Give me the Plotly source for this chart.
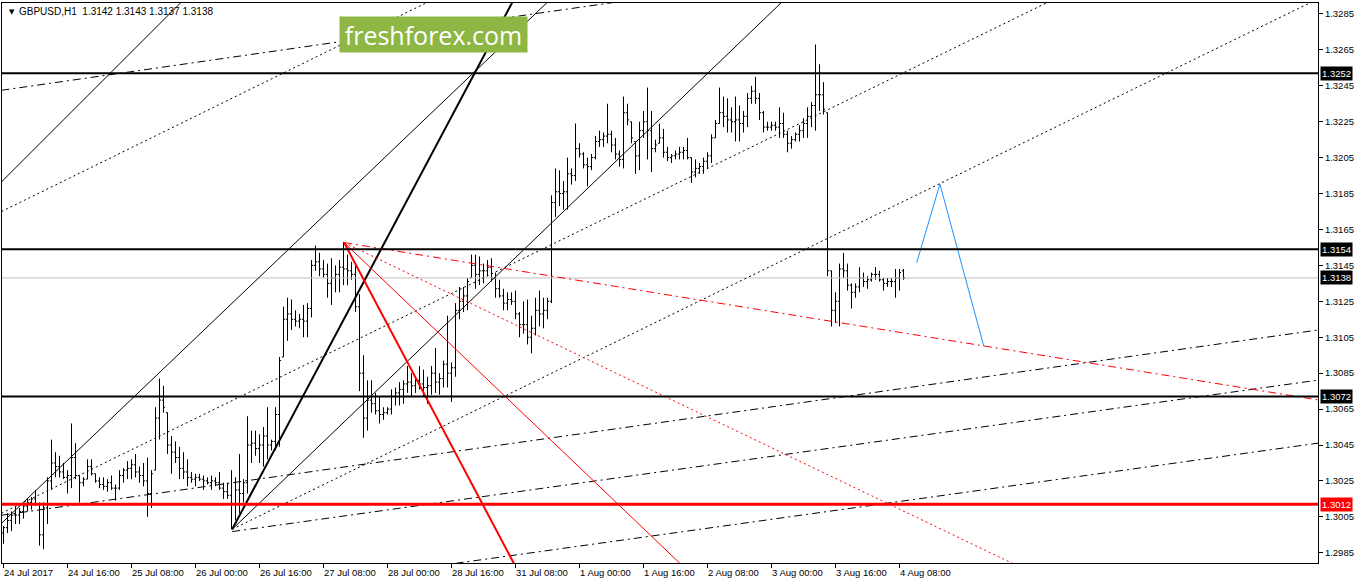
import plotly.graph_objects as go

# ---------------- data: GBPUSD H1, bars indexed from 24 Jul 2017 00:00 (weekend skipped) ----------------
bar_index = list(range(226))

high = [
    1.3000,1.3007,1.3008,1.3011,1.3010,1.3012,1.3015,1.3016,1.3020,1.3013,1.3013,1.3027,1.3048,1.3041,1.3039,1.3035,1.3031,1.3057,1.3046,1.3028,1.3027,1.3037,1.3037,1.3029,
    1.3027,1.3027,1.3026,1.3028,1.3023,1.3031,1.3032,1.3036,1.3037,1.3040,1.3033,1.3035,1.3038,1.3031,1.3066,1.3082,1.3078,1.3063,1.3050,1.3047,1.3044,1.3041,1.3037,1.3030,
    1.3029,1.3029,1.3028,1.3027,1.3028,1.3027,1.3030,1.3024,1.3024,1.3031,1.3027,1.3040,1.3026,1.3061,1.3053,1.3053,1.3051,1.3055,1.3066,1.3048,1.3066,1.3094,1.3122,1.3127,
    1.3126,1.3120,1.3118,1.3123,1.3124,1.3148,1.3156,1.3152,1.3148,1.3146,1.3149,1.3145,1.3148,1.3158,1.3151,1.3147,1.3145,1.3129,1.3095,1.3081,1.3081,1.3074,1.3072,1.3066,
    1.3066,1.3076,1.3077,1.3080,1.3081,1.3089,1.3085,1.3083,1.3089,1.3087,1.3083,1.3089,1.3099,1.3085,1.3092,1.3117,1.3091,1.3124,1.3133,1.3133,1.3138,1.3151,1.3151,1.3150,
    1.3146,1.3148,1.3149,1.3141,1.3137,1.3132,1.3130,1.3130,1.3131,1.3119,1.3125,1.3126,1.3117,1.3127,1.3131,1.3127,1.3127,1.3184,1.3199,1.3198,1.3192,1.3205,1.3199,1.3224,
    1.3213,1.3208,1.3205,1.3207,1.3217,1.3220,1.3219,1.3235,1.3220,1.3216,1.3209,1.3239,1.3235,1.3225,1.3214,1.3225,1.3231,1.3244,1.3231,1.3215,1.3224,1.3221,1.3211,1.3207,
    1.3209,1.3211,1.3211,1.3216,1.3205,1.3204,1.3202,1.3205,1.3208,1.3218,1.3226,1.3244,1.3239,1.3238,1.3233,1.3239,1.3234,1.3231,1.3241,1.3245,1.3250,1.3241,1.3231,1.3225,
    1.3225,1.3225,1.3233,1.3230,1.3220,1.3217,1.3219,1.3223,1.3227,1.3233,1.3236,1.3268,1.3257,1.3247,1.3230,1.3142,1.3130,1.3146,1.3152,1.3146,1.3135,1.3135,1.3144,1.3141,
    1.3139,1.3141,1.3144,1.3142,1.3138,1.3138,1.3138,1.3143,1.3143,1.3143,
]
low = [
    1.2990,1.2996,1.2997,1.3001,1.3001,1.3004,1.3008,1.3009,1.3011,1.2989,1.2987,1.3001,1.3020,1.3027,1.3027,1.3026,1.3018,1.3021,1.3026,1.3013,1.3022,1.3026,1.3028,1.3024,
    1.3021,1.3020,1.3019,1.3020,1.3014,1.3020,1.3024,1.3026,1.3026,1.3027,1.3024,1.3022,1.3005,1.3010,1.3031,1.3048,1.3063,1.3040,1.3029,1.3035,1.3026,1.3026,1.3022,1.3024,
    1.3022,1.3025,1.3020,1.3023,1.3020,1.3022,1.3020,1.3015,1.3015,1.2998,1.3003,1.3007,1.3013,1.3018,1.3035,1.3039,1.3035,1.3033,1.3037,1.3042,1.3042,1.3044,1.3094,1.3103,
    1.3109,1.3111,1.3110,1.3105,1.3105,1.3116,1.3142,1.3139,1.3138,1.3127,1.3123,1.3130,1.3130,1.3134,1.3134,1.3137,1.3119,1.3075,1.3049,1.3053,1.3063,1.3062,1.3057,1.3059,
    1.3062,1.3062,1.3067,1.3067,1.3068,1.3074,1.3072,1.3074,1.3076,1.3072,1.3068,1.3073,1.3074,1.3073,1.3077,1.3077,1.3069,1.3083,1.3115,1.3119,1.3120,1.3138,1.3132,1.3134,
    1.3135,1.3139,1.3136,1.3127,1.3127,1.3120,1.3120,1.3123,1.3115,1.3105,1.3107,1.3101,1.3096,1.3106,1.3111,1.3110,1.3115,1.3124,1.3172,1.3178,1.3176,1.3176,1.3190,1.3192,
    1.3205,1.3199,1.3189,1.3198,1.3204,1.3211,1.3211,1.3213,1.3208,1.3204,1.3200,1.3199,1.3223,1.3213,1.3196,1.3198,1.3216,1.3204,1.3197,1.3208,1.3213,1.3205,1.3203,1.3202,
    1.3204,1.3204,1.3204,1.3204,1.3191,1.3194,1.3196,1.3196,1.3199,1.3202,1.3216,1.3224,1.3222,1.3219,1.3219,1.3214,1.3214,1.3219,1.3222,1.3235,1.3235,1.3226,1.3219,1.3220,
    1.3220,1.3220,1.3216,1.3216,1.3208,1.3210,1.3214,1.3214,1.3216,1.3216,1.3222,1.3220,1.3231,1.3229,1.3139,1.3111,1.3113,1.3111,1.3138,1.3131,1.3121,1.3127,1.3130,1.3133,
    1.3132,1.3136,1.3137,1.3136,1.3131,1.3133,1.3133,1.3127,1.3131,1.3137,
]
open_ = [
    1.2996,1.2999,1.3003,1.3006,1.3006,1.3008,1.3011,1.3013,1.3015,1.3012,1.2995,1.3010,1.3025,1.3035,1.3033,1.3030,1.3027,1.3028,1.3038,1.3028,1.3024,1.3026,1.3033,1.3029,
    1.3025,1.3023,1.3022,1.3024,1.3021,1.3021,1.3028,1.3031,1.3032,1.3034,1.3030,1.3028,1.3025,1.3018,1.3031,1.3060,1.3070,1.3063,1.3045,1.3041,1.3038,1.3032,1.3030,1.3027,
    1.3026,1.3027,1.3026,1.3025,1.3024,1.3025,1.3024,1.3021,1.3019,1.3017,1.3012,1.3020,1.3018,1.3024,1.3045,1.3046,1.3043,1.3045,1.3050,1.3045,1.3047,1.3062,1.3094,1.3115,
    1.3118,1.3115,1.3114,1.3115,1.3114,1.3121,1.3145,1.3147,1.3143,1.3140,1.3135,1.3138,1.3140,1.3144,1.3143,1.3142,1.3140,1.3122,1.3085,1.3060,1.3070,1.3068,1.3064,1.3062,
    1.3063,1.3065,1.3072,1.3074,1.3076,1.3079,1.3080,1.3078,1.3081,1.3079,1.3077,1.3078,1.3085,1.3080,1.3082,1.3090,1.3085,1.3088,1.3120,1.3125,1.3128,1.3138,1.3145,1.3140,
    1.3142,1.3142,1.3144,1.3138,1.3132,1.3128,1.3124,1.3126,1.3125,1.3118,1.3112,1.3112,1.3105,1.3110,1.3120,1.3118,1.3120,1.3125,1.3180,1.3186,1.3185,1.3186,1.3196,1.3195,
    1.3210,1.3207,1.3201,1.3200,1.3205,1.3214,1.3215,1.3217,1.3218,1.3212,1.3207,1.3204,1.3230,1.3225,1.3214,1.3206,1.3220,1.3225,1.3220,1.3210,1.3213,1.3216,1.3208,1.3205,
    1.3206,1.3207,1.3208,1.3209,1.3205,1.3197,1.3199,1.3200,1.3203,1.3206,1.3216,1.3224,1.3230,1.3228,1.3226,1.3225,1.3226,1.3224,1.3228,1.3238,1.3242,1.3238,1.3230,1.3222,
    1.3222,1.3223,1.3222,1.3224,1.3218,1.3213,1.3215,1.3218,1.3220,1.3224,1.3228,1.3234,1.3240,1.3240,1.3230,1.3142,1.3120,1.3125,1.3143,1.3142,1.3134,1.3130,1.3133,1.3138,
    1.3136,1.3137,1.3140,1.3140,1.3137,1.3135,1.3136,1.3136,1.3138,1.3142,
]
close = [
    1.2999,1.3003,1.3006,1.3006,1.3008,1.3011,1.3013,1.3015,1.3012,1.2995,1.3010,1.3025,1.3035,1.3033,1.3030,1.3027,1.3028,1.3038,1.3028,1.3024,1.3026,1.3033,1.3029,1.3025,
    1.3023,1.3022,1.3024,1.3021,1.3021,1.3028,1.3031,1.3032,1.3034,1.3030,1.3028,1.3025,1.3018,1.3029,1.3060,1.3070,1.3066,1.3045,1.3041,1.3038,1.3032,1.3030,1.3027,1.3026,
    1.3027,1.3026,1.3025,1.3024,1.3025,1.3024,1.3021,1.3019,1.3017,1.3012,1.3020,1.3018,1.3024,1.3045,1.3046,1.3043,1.3045,1.3050,1.3045,1.3047,1.3062,1.3092,1.3115,1.3118,
    1.3115,1.3114,1.3115,1.3114,1.3121,1.3145,1.3147,1.3143,1.3140,1.3135,1.3138,1.3140,1.3144,1.3143,1.3142,1.3140,1.3122,1.3085,1.3060,1.3070,1.3068,1.3064,1.3062,1.3063,
    1.3065,1.3072,1.3074,1.3076,1.3079,1.3080,1.3078,1.3081,1.3079,1.3077,1.3078,1.3085,1.3080,1.3082,1.3090,1.3085,1.3088,1.3120,1.3125,1.3128,1.3136,1.3145,1.3140,1.3142,
    1.3142,1.3144,1.3138,1.3132,1.3128,1.3124,1.3126,1.3125,1.3118,1.3112,1.3112,1.3105,1.3110,1.3120,1.3118,1.3120,1.3125,1.3180,1.3186,1.3185,1.3186,1.3196,1.3195,1.3210,
    1.3207,1.3201,1.3200,1.3205,1.3214,1.3215,1.3217,1.3218,1.3212,1.3207,1.3204,1.3230,1.3226,1.3216,1.3206,1.3220,1.3225,1.3220,1.3210,1.3212,1.3216,1.3208,1.3205,1.3206,
    1.3207,1.3208,1.3209,1.3205,1.3197,1.3199,1.3200,1.3203,1.3206,1.3216,1.3224,1.3230,1.3228,1.3226,1.3225,1.3226,1.3224,1.3228,1.3238,1.3242,1.3238,1.3230,1.3222,1.3222,
    1.3223,1.3222,1.3224,1.3218,1.3213,1.3215,1.3218,1.3220,1.3224,1.3228,1.3234,1.3240,1.3240,1.3232,1.3142,1.3120,1.3125,1.3143,1.3142,1.3134,1.3130,1.3133,1.3138,1.3136,
    1.3137,1.3140,1.3140,1.3137,1.3135,1.3136,1.3136,1.3138,1.3141,1.3138,
]

x_tick_pos = [0, 16, 32, 48, 64, 80, 96, 112, 128, 144, 160, 176, 192, 208, 224]
x_tick_labels = ["24 Jul 2017", "24 Jul 16:00", "25 Jul 08:00", "26 Jul 00:00", "26 Jul 16:00",
                 "27 Jul 08:00", "28 Jul 00:00", "28 Jul 16:00", "31 Jul 08:00", "1 Aug 00:00",
                 "1 Aug 16:00", "2 Aug 08:00", "3 Aug 00:00", "3 Aug 16:00", "4 Aug 08:00"]
y_tick_vals = [1.2985, 1.3005, 1.3025, 1.3045, 1.3065, 1.3085, 1.3105, 1.3125, 1.3145,
               1.3165, 1.3185, 1.3205, 1.3225, 1.3245, 1.3265, 1.3285]

level_black = [1.3252, 1.3154, 1.3072]
level_red = [1.3012]
last_price = [1.3138]

# trend lines: (bar index, price) anchor pairs
thin_black = [[(-0.5, 1.31915), (45.0, 1.32928)],
              [(-0.5, 1.30014), (137.0, 1.32937)],
              [(57.18, 1.29981), (196.0, 1.32946)]]
thick_black = [[(57.18, 1.29981), (128.0, 1.32948)]]
dotted_black = [[(-0.5, 1.31750), (108.0, 1.32937)],
                [(-0.5, 1.30070), (262.0, 1.32925)],
                [(57.18, 1.29981), (328.0, 1.32927)]]
dashdot_black = [[(-0.5, 1.32425), (155.0, 1.32922)],
                 [(-0.5, 1.30059), (329.5, 1.31093)],
                 [(113.0, 1.29791), (329.5, 1.30463)],
                 [(57.18, 1.29968), (329.5, 1.30814)]]
red_thick = [[(85.15, 1.31577), (128.0, 1.29774)]]
red_thin = [[(85.15, 1.31577), (170.0, 1.29772)]]
red_dotted = [[(85.15, 1.31577), (254.0, 1.29772)]]
red_dashdot = [[(85.15, 1.31577), (329.5, 1.30698)]]
blue_path_x = [228.3, 234.1, 245.1]
blue_path_y = [1.31465, 1.31903, 1.30998]

X_RANGE = [-0.375, 328.625]
Y_RANGE = [1.29793, 1.32911]

FONT = "Liberation Sans, Arial, sans-serif"
FS = 9.5

fig = go.Figure()


def add_lines(segs, color, width, dash):
    for seg in segs:
        fig.add_trace(go.Scatter(x=[p[0] for p in seg], y=[p[1] for p in seg], mode="lines",
                                 line=dict(color=color, width=width, dash=dash),
                                 hoverinfo="skip", showlegend=False))


# last price line (drawn under the bars)
for lv in last_price:
    fig.add_trace(go.Scatter(x=X_RANGE, y=[lv, lv], mode="lines",
                             line=dict(color="#C0C0C0", width=1), hoverinfo="skip", showlegend=False))

# price bars
fig.add_trace(go.Ohlc(x=bar_index, open=open_, high=high, low=low, close=close,
                      increasing=dict(line=dict(color="black", width=1)),
                      decreasing=dict(line=dict(color="black", width=1)),
                      tickwidth=0.4, hoverinfo="skip", showlegend=False))

add_lines(thin_black, "black", 1, "solid")
add_lines(thick_black, "black", 2, "solid")
add_lines(dotted_black, "black", 1, "2px,3px")
add_lines(dashdot_black, "black", 1, "8px,4px,2px,4px")
add_lines(red_thick, "#FF0000", 2, "solid")
add_lines(red_thin, "#FF0000", 1, "solid")
add_lines(red_dotted, "#FF0000", 1, "2px,3px")
add_lines(red_dashdot, "#FF0000", 1, "8px,4px,2px,4px")

fig.add_trace(go.Scatter(x=blue_path_x, y=blue_path_y, mode="lines",
                         line=dict(color="#1E90FF", width=1), hoverinfo="skip", showlegend=False))

for lv in level_black:
    fig.add_trace(go.Scatter(x=X_RANGE, y=[lv, lv], mode="lines",
                             line=dict(color="black", width=2), hoverinfo="skip", showlegend=False))
for lv in level_red:
    fig.add_trace(go.Scatter(x=X_RANGE, y=[lv, lv], mode="lines",
                             line=dict(color="#FF0000", width=3), hoverinfo="skip", showlegend=False))

annotations = []
for pos, lab in zip(x_tick_pos, x_tick_labels):
    annotations.append(dict(x=pos, xref="x", y=0, yref="paper", xanchor="left", yanchor="top",
                            xshift=-2, yshift=-2, text=lab, showarrow=False,
                            font=dict(family=FONT, size=FS, color="black")))

for lv in level_black + last_price:
    annotations.append(dict(x=1, xref="paper", y=lv, yref="y", xanchor="left", yanchor="middle",
                            xshift=2, text=f"{lv:.4f}", showarrow=False, bgcolor="black",
                            borderpad=1, font=dict(family=FONT, size=FS, color="white")))
for lv in level_red:
    annotations.append(dict(x=1, xref="paper", y=lv, yref="y", xanchor="left", yanchor="middle",
                            xshift=2, text=f"{lv:.4f}", showarrow=False, bgcolor="#FF0000",
                            borderpad=1, font=dict(family=FONT, size=FS, color="white")))

annotations.append(dict(x=0.0038, xref="paper", y=1, yref="paper", xanchor="left", yanchor="top",
                        yshift=-3, text="▼", showarrow=False,
                        font=dict(family="DejaVu Sans", size=7, color="black")))
annotations.append(dict(x=0.0114, xref="paper", y=1, yref="paper", xanchor="left", yanchor="top",
                        yshift=-1, text="GBPUSD,H1  1.3142 1.3143 1.3137 1.3138", showarrow=False,
                        font=dict(family=FONT, size=10, color="black")))
annotations.append(dict(x=0.3279, xref="paper", y=0.94375, yref="paper", xanchor="center",
                        yanchor="middle", text="freshforex.com", showarrow=False,
                        bgcolor="#8DB645", width=187, height=35, borderpad=0,
                        font=dict(family="Open Sans", size=25, color="white")))

fig.update_layout(
    width=1358, height=584,
    margin=dict(l=2, r=40, t=3, b=21),
    paper_bgcolor="white", plot_bgcolor="white",
    showlegend=False,
    annotations=annotations,
    xaxis=dict(range=X_RANGE, showgrid=False, zeroline=False, showline=True, linecolor="black",
               linewidth=1, mirror=True, ticks="outside", ticklen=4, tickcolor="black",
               tickvals=x_tick_pos, showticklabels=False, rangeslider=dict(visible=False),
               fixedrange=True),
    yaxis=dict(range=Y_RANGE, side="right", showgrid=False, zeroline=False, showline=True,
               linecolor="black", linewidth=1, mirror=True, ticks="outside", ticklen=4,
               tickcolor="black", tickvals=y_tick_vals, tickformat=".4f",
               tickfont=dict(family=FONT, size=FS, color="black"), fixedrange=True),
)

fig.write_html("out.html", config={"displayModeBar": False},
               post_script="document.body.style.margin='0px';document.body.style.padding='0px';")
